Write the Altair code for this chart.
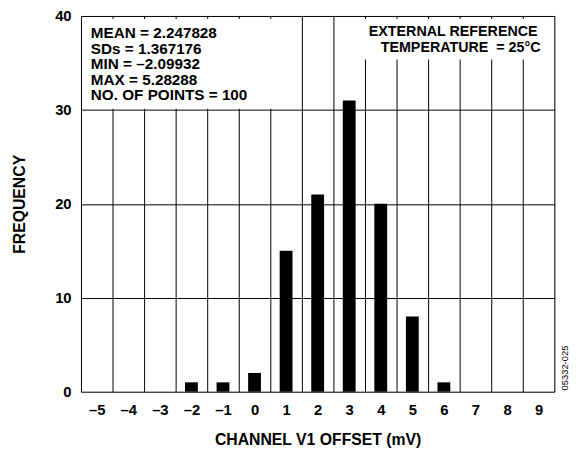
import altair as alt
import pandas as pd

# Data
categories = ["–5", "–4", "–3", "–2", "–1", "0", "1", "2", "3", "4", "5", "6", "7", "8", "9"]
frequency = [0, 0, 0, 1, 1, 2, 15, 21, 31, 20, 8, 1, 0, 0, 0]
y_ticks = [0, 10, 20, 30, 40]

stats_lines = [
    "MEAN = 2.247828",
    "SDs = 1.367176",
    "MIN = –2.09932",
    "MAX = 5.28288",
    "NO. OF POINTS = 100",
]
cond_lines = ["EXTERNAL REFERENCE", "TEMPERATURE\u00a0 = 25°C"]
figure_id = "05332-025"

df = pd.DataFrame({"offset": categories, "freq": frequency})
one = pd.DataFrame({"k": [0]})

FONT = "Liberation Sans"

x_enc = alt.X(
    "offset:O",
    sort=categories,
    scale=alt.Scale(domain=categories, paddingInner=0, paddingOuter=0),
    axis=alt.Axis(
        title="CHANNEL V1 OFFSET (mV)",
        grid=True,
        tickBand="extent",
        ticks=False,
        domain=False,
        labelAngle=0,
        labelPadding=11,
        labelFont=FONT,
        labelFontSize=15,
        labelFontWeight="bold",
        labelColor="black",
        gridColor="black",
        gridWidth=1,
        gridOpacity=1,
        titleFont=FONT,
        titleFontSize=16,
        titleFontWeight="bold",
        titleColor="black",
        titleBaseline="middle",
        titleY=49,
    ),
)
y_enc = alt.Y(
    "freq:Q",
    scale=alt.Scale(domain=[0, 40], nice=False),
    axis=alt.Axis(
        title="FREQUENCY",
        values=y_ticks,
        grid=True,
        ticks=False,
        domain=False,
        labelPadding=10,
        labelFont=FONT,
        labelFontSize=15,
        labelFontWeight="bold",
        labelColor="black",
        gridColor="black",
        gridWidth=1,
        gridOpacity=1,
        titleFont=FONT,
        titleFontSize=16,
        titleFontWeight="bold",
        titleColor="black",
        titleBaseline="middle",
        titleX=-62,
    ),
)

bars = alt.Chart(df).mark_bar(width=13, color="black").encode(x=x_enc, y=y_enc)

box_left = alt.Chart(one).mark_rect(color="white").encode(
    x=alt.value(2), x2=alt.value(208), y=alt.value(3), y2=alt.value(94)
)
box_right = alt.Chart(one).mark_rect(color="white").encode(
    x=alt.value(262), x2=alt.value(478), y=alt.value(3), y2=alt.value(44)
)

stats_text = alt.Chart(one).mark_text(
    align="left", baseline="alphabetic", font=FONT, fontSize=15.5,
    fontWeight="bold", lineHeight=15.7, color="black"
).encode(x=alt.value(10), y=alt.value(22.5), text=alt.value(stats_lines))

cond_text_1 = alt.Chart(one).mark_text(
    align="right", baseline="alphabetic", font=FONT, fontSize=14.5,
    fontWeight="bold", color="black"
).encode(x=alt.value(463), y=alt.value(20), text=alt.value(cond_lines[0]))

cond_text_2 = alt.Chart(one).mark_text(
    align="right", baseline="alphabetic", font=FONT, fontSize=14.5,
    fontWeight="bold", color="black"
).encode(x=alt.value(466), y=alt.value(36.5), text=alt.value(cond_lines[1]))

id_text = alt.Chart(one).mark_text(
    align="center", baseline="middle", font=FONT, fontSize=9.5,
    angle=270, color="black"
).encode(x=alt.value(491), y=alt.value(357), text=alt.value(figure_id))

chart = (
    alt.layer(bars, box_left, box_right, stats_text, cond_text_1, cond_text_2, id_text)
    .properties(
        width=480,
        height=381,
        autosize=alt.AutoSizeParams(type="none"),
        padding={"left": 74, "top": 5, "right": 24, "bottom": 56},
    )
    .configure_view(stroke="black", strokeWidth=2)
    .configure(background="white")
)

chart.save("out.html", embed_options={"renderer": "svg", "actions": False})
